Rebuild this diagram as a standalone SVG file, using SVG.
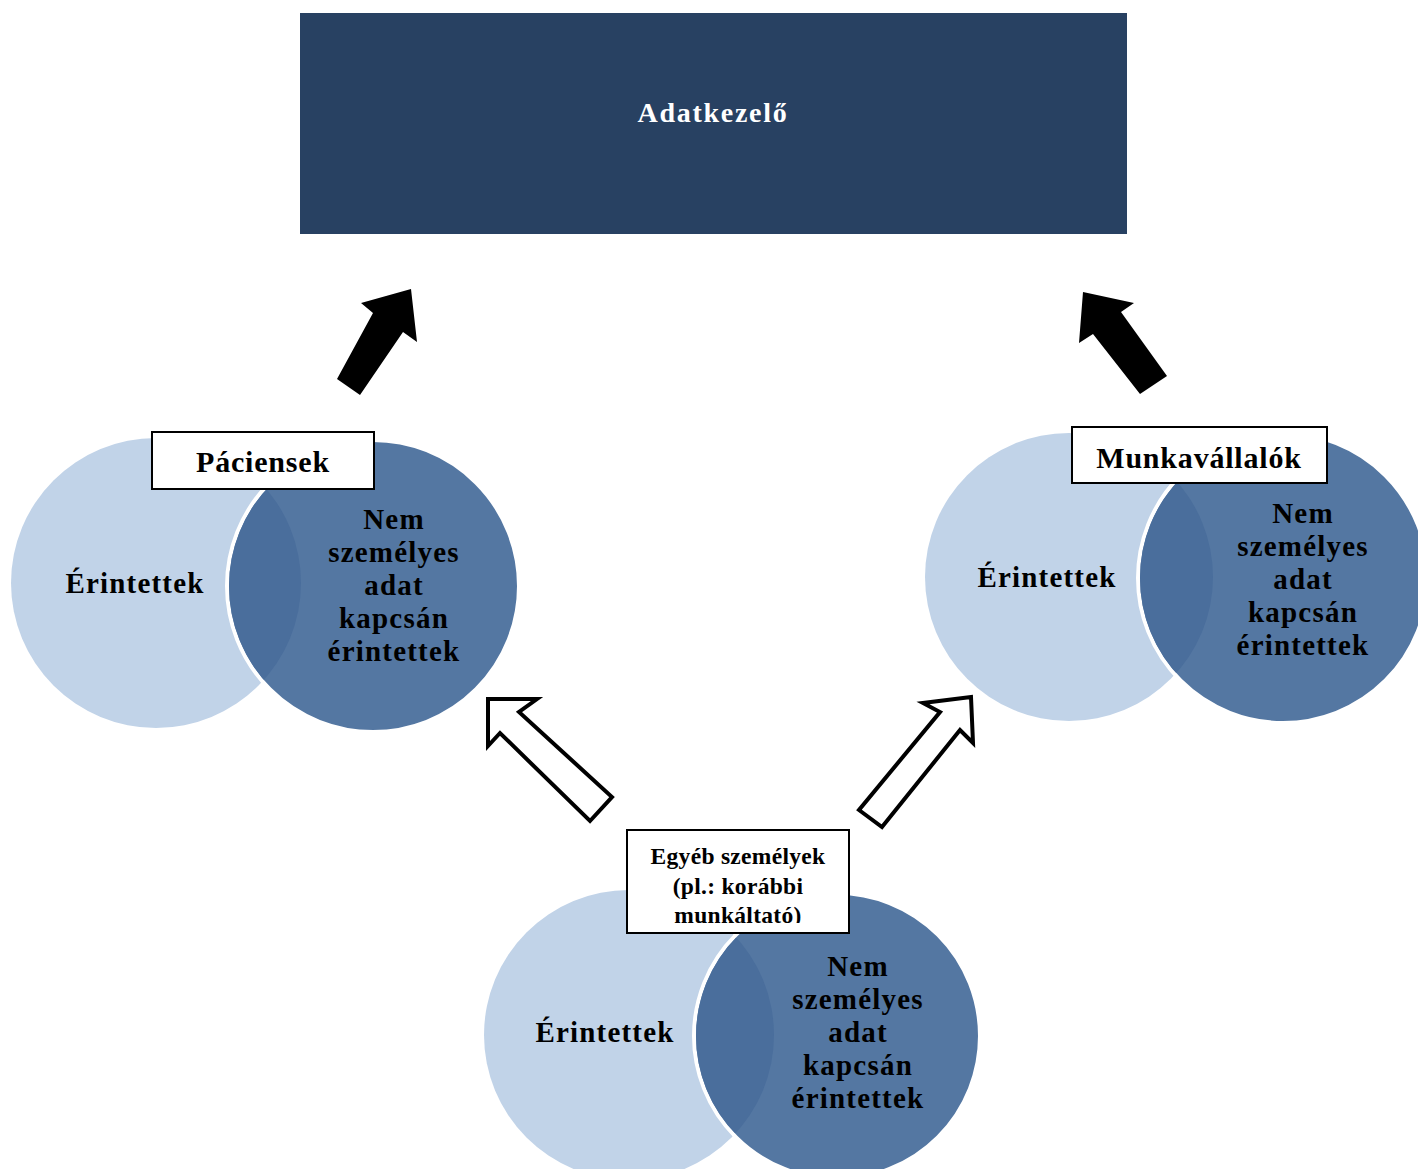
<svg xmlns="http://www.w3.org/2000/svg" width="1418" height="1169" viewBox="0 0 1418 1169">
<style>
.t{font-family:"Liberation Serif","Times New Roman",serif;font-weight:bold;fill:#000;text-anchor:middle}
.big{font-size:29px;letter-spacing:1.2px}
.lab{font-size:30px;letter-spacing:0.8px}
.sm{font-size:23.5px;letter-spacing:0.3px}
.lbl{fill:#fff;stroke:#000;stroke-width:2}
.light{fill:#C1D3E8}
.dark{fill:#5477A2;stroke:#fff;stroke-width:4}
.ov{fill:#4A6E9C}
.solid{fill:#000}
.hollow{fill:#fff;stroke:#000;stroke-width:4;stroke-linejoin:miter}
</style>
<defs>
<clipPath id="cL"><circle cx="373" cy="586" r="144"/></clipPath>
<clipPath id="cR"><circle cx="1283" cy="578" r="143"/></clipPath>
<clipPath id="cB"><circle cx="837" cy="1036" r="141"/></clipPath>
<clipPath id="boxB"><rect x="628" y="831" width="220" height="92"/></clipPath>
</defs>
<rect width="1418" height="1169" fill="#fff"/>
<g id="adatkezelo">
<rect x="300" y="13" width="827" height="221" fill="#284162"/>
<text class="t" x="713" y="122" font-size="28" letter-spacing="1.7" style="fill:#fff">Adatkezelő</text>
</g>
<g id="connectors">
<polygon class="solid" points="411,289 417,342 403,332 360,395 337,379 373,313 361,303"/>
<polygon class="solid" points="1083,292 1134,303 1121,312 1167,376 1140,394 1093,334 1079,343"/>
<polygon class="hollow" points="488,699 537,699 519,712 612,797 590,821 500,733 488,746"/>
<polygon class="hollow" points="971,697 973,743 960,730 882,827 859,810 940,712 923,703"/>
</g>
<g id="paciensek">
<circle class="light" cx="156" cy="583" r="145"/>
<circle class="dark" cx="373" cy="586" r="146"/>
<circle class="ov" cx="156" cy="583" r="145" clip-path="url(#cL)"/>
<text class="t big" x="135" y="593">Érintettek</text>
<text class="t big" x="394" y="529">Nem</text>
<text class="t big" x="394" y="562">személyes</text>
<text class="t big" x="394" y="595">adat</text>
<text class="t big" x="394" y="628">kapcsán</text>
<text class="t big" x="394" y="661">érintettek</text>
<rect class="lbl" x="152" y="432" width="222" height="57"/>
<text class="t lab" x="263" y="472">Páciensek</text>
</g>
<g id="munkavallalok">
<circle class="light" cx="1069" cy="577" r="144"/>
<circle class="dark" cx="1283" cy="578" r="145"/>
<circle class="ov" cx="1069" cy="577" r="144" clip-path="url(#cR)"/>
<text class="t big" x="1047" y="587">Érintettek</text>
<text class="t big" x="1303" y="523">Nem</text>
<text class="t big" x="1303" y="556">személyes</text>
<text class="t big" x="1303" y="589">adat</text>
<text class="t big" x="1303" y="622">kapcsán</text>
<text class="t big" x="1303" y="655">érintettek</text>
<rect class="lbl" x="1072" y="427" width="255" height="56"/>
<text class="t lab" x="1199" y="468">Munkavállalók</text>
</g>
<g id="egyeb">
<circle class="light" cx="629" cy="1035" r="145"/>
<circle class="dark" cx="837" cy="1036" r="143"/>
<circle class="ov" cx="629" cy="1035" r="145" clip-path="url(#cB)"/>
<text class="t big" x="605" y="1042">Érintettek</text>
<text class="t big" x="858" y="976">Nem</text>
<text class="t big" x="858" y="1009">személyes</text>
<text class="t big" x="858" y="1042">adat</text>
<text class="t big" x="858" y="1075">kapcsán</text>
<text class="t big" x="858" y="1108">érintettek</text>
<rect class="lbl" x="627" y="830" width="222" height="103"/>
<g clip-path="url(#boxB)">
<text class="t sm" x="738" y="864">Egyéb személyek</text>
<text class="t sm" x="738" y="894">(pl.: korábbi</text>
<text class="t sm" x="738" y="923">munkáltató)</text>
</g>
</g>
</svg>
